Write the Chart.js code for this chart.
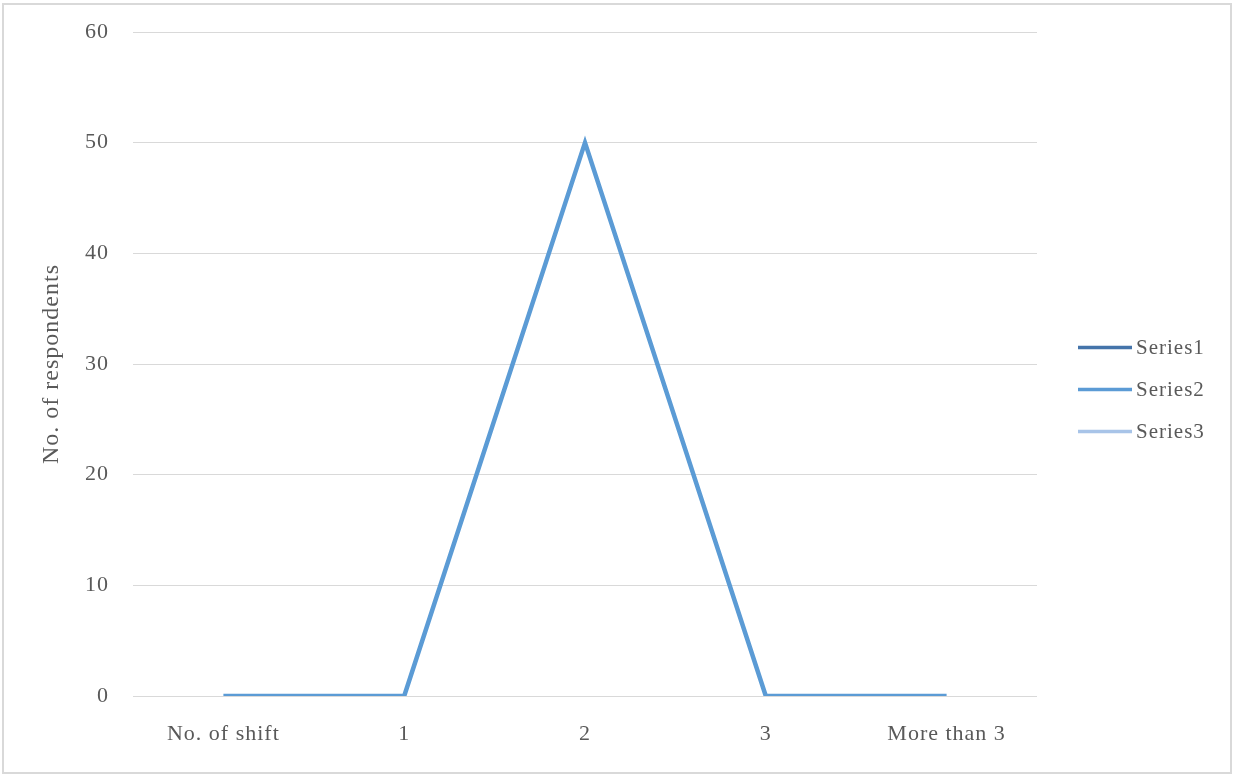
<!DOCTYPE html>
<html>
<head>
<meta charset="utf-8">
<title>No. of shift</title>
<script src="https://cdn.jsdelivr.net/npm/chart.js@4.4.1/dist/chart.umd.min.js"></script>
<style>
  html, body { margin: 0; padding: 0; background: #ffffff; }
  #wrap { position: relative; width: 1234px; height: 775px; }
</style>
</head>
<body>
<div id="wrap"><canvas id="chart" width="1234" height="775"></canvas></div>
<script>
// Categories along the x axis
const categories = ['No. of shift', '1', '2', '3', 'More than 3'];

// Series values (Series1 and Series3 carry no plotted points)
const series1 = [null, null, null, null, null];
const series2 = [0, 0, 50, 0, 0];
const series3 = [null, null, null, null, null];

const seriesNames = ['Series1', 'Series2', 'Series3'];
const seriesColors = ['#4474aa', '#5b9bd5', '#a8c4e8'];

// Y axis ticks
const yTicks = [0, 10, 20, 30, 40, 50, 60];
const yTitle = 'No. of respondents';

const FONT = '"Liberation Serif", "Times New Roman", serif';
const TEXT = '#595959';
const GRID = '#d9d9d9';
const SPACING = '1px';

// Wide text tracking for all labels
const tracking = {
  id: 'tracking',
  beforeUpdate(chart) { chart.ctx.letterSpacing = SPACING; },
  beforeLayout(chart) { chart.ctx.letterSpacing = SPACING; },
  beforeDraw(chart) { chart.ctx.letterSpacing = SPACING; }
};

// Background and outer frame of the chart
const framePlugin = {
  id: 'frame',
  beforeDraw(chart) {
    const ctx = chart.ctx;
    ctx.save();
    ctx.fillStyle = '#ffffff';
    ctx.fillRect(0, 0, chart.width, chart.height);
    ctx.strokeStyle = GRID;
    ctx.lineWidth = 2;
    ctx.strokeRect(3, 4, chart.width - 6, chart.height - 6);
    ctx.restore();
  }
};

// Legend on the right: short line swatch followed by the series name
const sideLegend = {
  id: 'sideLegend',
  afterDraw(chart) {
    const ctx = chart.ctx;
    const sets = chart.data.datasets;
    const pitch = 42;
    const cy = chart.height / 2 + 2;
    const x0 = 1078, lineLen = 54, gap = 4;
    ctx.save();
    ctx.font = '21px ' + FONT;
    ctx.letterSpacing = SPACING;
    ctx.textBaseline = 'middle';
    ctx.textAlign = 'left';
    sets.forEach((ds, i) => {
      const y = cy + (i - (sets.length - 1) / 2) * pitch;
      ctx.strokeStyle = ds.borderColor;
      ctx.lineWidth = 3.5;
      ctx.beginPath();
      ctx.moveTo(x0, y);
      ctx.lineTo(x0 + lineLen, y);
      ctx.stroke();
      ctx.fillStyle = TEXT;
      ctx.fillText(ds.label, x0 + lineLen + gap, y + 1);
    });
    ctx.restore();
  }
};

const seriesData = [series1, series2, series3];

new Chart(document.getElementById('chart'), {
  type: 'line',
  data: {
    labels: categories,
    datasets: seriesData.map((d, i) => ({
      label: seriesNames[i],
      data: d,
      borderColor: seriesColors[i],
      backgroundColor: seriesColors[i],
      borderWidth: 4.5,
      pointRadius: 0,
      pointHoverRadius: 0,
      tension: 0,
      fill: false,
      order: i === 1 ? 0 : 1
    }))
  },
  options: {
    responsive: false,
    animation: false,
    events: [],
    layout: { padding: { left: 35, right: 197, top: 32, bottom: 0 } },
    plugins: {
      legend: { display: false },
      tooltip: { enabled: false }
    },
    scales: {
      x: {
        offset: true,
        afterFit(scale) { scale.height = 79; },
        grid: { display: false, drawTicks: false },
        border: { display: false },
        ticks: {
          color: TEXT,
          padding: 25,
          maxRotation: 0,
          autoSkip: false,
          font: { family: FONT, size: 22 }
        }
      },
      y: {
        min: yTicks[0],
        max: yTicks[yTicks.length - 1],
        afterBuildTicks(scale) {
          scale.ticks = yTicks.map(v => ({ value: v }));
        },
        afterFit(scale) {
          scale.width = 98;
          scale.paddingTop = 0;
          scale.paddingBottom = 0;
        },
        grid: { color: GRID, lineWidth: 1, drawTicks: false },
        border: { display: false },
        ticks: {
          color: TEXT,
          padding: 24,
          font: { family: FONT, size: 22 }
        },
        title: {
          display: true,
          text: yTitle,
          color: TEXT,
          font: { family: FONT, size: 24 },
          padding: { top: 2, bottom: 4 }
        }
      }
    }
  },
  plugins: [tracking, framePlugin, sideLegend]
});
</script>
</body>
</html>
